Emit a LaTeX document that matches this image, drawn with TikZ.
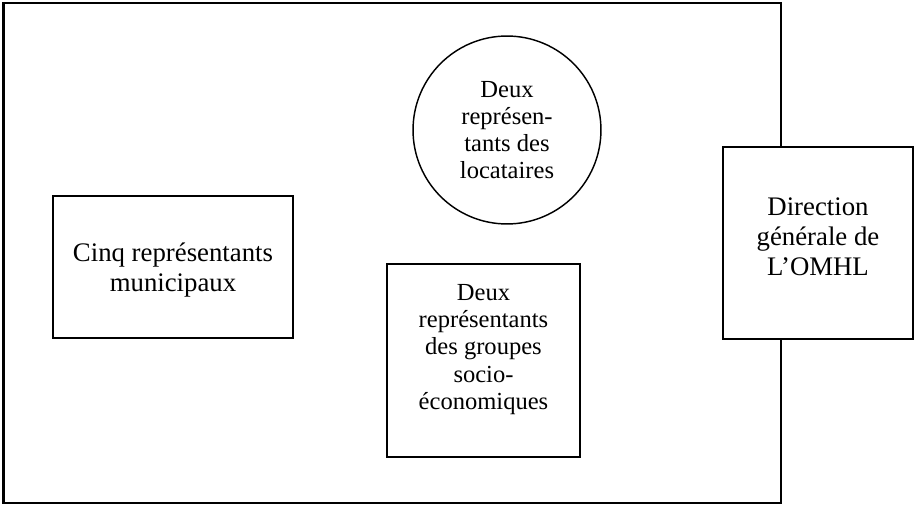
\documentclass[tikz,border=0pt]{standalone}
\usepackage{fontspec}
\setmainfont{Liberation Serif}

\begin{document}
\begin{tikzpicture}[x=0.448pt,y=-0.448pt,
        box/.style = {draw, line width=0.65pt, fill=white, align=center, inner sep=0pt,
                      font=\fontsize{12}{13.5}\selectfont},
        petit/.style = {font=\fontsize{11}{12.2}\selectfont},
        rond/.style = {draw, circle, line width=0.65pt, fill=white, align=center, inner sep=0pt,
                      petit}]
        \useasboundingbox (0,0) rectangle (915,508);
        \draw[line width=0.9pt] (3.5,3.5) rectangle (781,503);
        \node[box, minimum width=107.5pt, minimum height=63.6pt, text depth=-4.6pt] (municipaux) at (173,267) {Cinq représentants\\municipaux};
        \node[rond, minimum size=84.2pt] (locataires) at (507,130) {Deux\\représen-\\tants des\\locataires};
        \node[box, petit, minimum width=86.5pt, minimum height=86.5pt, text depth=12.2pt] (socio) at (483.5,360.5) {Deux\\représentants\\des groupes\\socio-\\économiques};
        \node[box, minimum width=85.1pt, minimum height=86pt, text depth=5.4pt] (direction) at (818,243) {Direction\\générale de\\L’OMHL};
    \end{tikzpicture}
\end{document}
